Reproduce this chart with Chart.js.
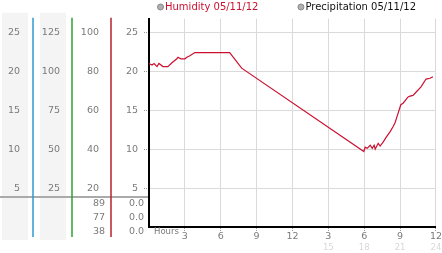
<!DOCTYPE html>
<html>
<head>
<meta charset="utf-8">
<script src="https://cdn.jsdelivr.net/npm/chart.js@4.4.1/dist/chart.umd.min.js"></script>
<style>
  html, body { margin: 0; padding: 0; background: #fff; }
</style>
</head>
<body>
<canvas id="chart" width="442" height="253"></canvas>
<script>
// humidity trace (hours since midnight -> value)
const hours = [0, 0.25, 0.42, 0.67, 0.83, 1.17, 1.58, 1.92, 2.33, 2.42, 2.67, 3.0, 3.17, 3.42, 3.83,
  6.75, 7.75, 17.97, 18.08, 18.25, 18.5, 18.67, 18.83, 18.92, 19.17, 19.33, 19.58, 19.83, 20.17,
  20.42, 20.58, 20.83, 21.06, 21.25, 21.67, 21.83, 22.08, 22.33, 22.75, 23.17, 23.5, 23.75];
const humidity = [21.0, 20.8, 21.0, 20.6, 21.0, 20.6, 20.6, 21.1, 21.6, 21.8, 21.6, 21.6, 21.8, 22.0, 22.4,
  22.4, 20.4, 9.7, 10.25, 10.1, 10.5, 10.1, 10.5, 10.0, 10.75, 10.4, 10.9, 11.5, 12.25,
  12.9, 13.4, 14.6, 15.7, 15.9, 16.7, 16.8, 16.9, 17.3, 18.0, 19.0, 19.1, 19.3];
const precipHours = [0, 23.75];
const precipitation = [0, 0];

const seriesLabels = ['Humidity 05/11/12', 'Precipitation 05/11/12'];

// left hand panel columns
const yMax = 26.75;
const colFactors = [1, 5, 4, 1];
const colSteps = [5, 25, 20, 5];
const readingsA = ['89', '77', '38'];
const readingsB = ['0.0', '0.0', '0.0'];

const xMax = 24;
const xStep = 3;

const grey = '#7a7a7a';
const red = '#cc1030';
const tickFont = { family: 'DejaVu Sans', size: 9.5 };
const smallFont = { family: 'DejaVu Sans', size: 8.5 };

function leftColumn(i, weight, width, pad) {
  return {
    position: 'left',
    weight: weight,
    min: 0,
    max: yMax * colFactors[i],
    grid: { display: false, drawTicks: false },
    border: { display: false },
    ticks: {
      stepSize: colSteps[i],
      includeBounds: false,
      padding: pad,
      color: grey,
      font: tickFont,
      callback: v => v === 0 ? '' : v
    },
    afterFit: s => { s.width = width; }
  };
}

// panel backgrounds, coloured separators, legend and readings
const panelPlugin = {
  id: 'panel',
  beforeDraw(chart) {
    const ctx = chart.ctx;
    const area = chart.chartArea;
    const s = chart.scales;
    ctx.save();
    ctx.fillStyle = '#f4f4f4';
    ctx.fillRect(s.c1.left + 2, area.top - 6, s.c1.right - s.c1.left - 7, area.bottom - area.top + 19);
    ctx.fillRect(s.c2.left + 7, area.top - 6, s.c2.right - s.c2.left - 13, area.bottom - area.top + 19);

    ctx.fillStyle = '#aaaaaa';
    ctx.fillRect(0, area.bottom - 31, s.y.right - 1, 2);

    const lineColors = ['#2f9bd0', '#2fa22f', '#b8202a'];
    [s.c1, s.c2, s.c3].forEach((sc, i) => {
      ctx.strokeStyle = lineColors[i];
      ctx.lineWidth = 1.5;
      ctx.beginPath();
      ctx.moveTo(sc.right, area.top - 1);
      ctx.lineTo(sc.right, area.bottom + 10);
      ctx.stroke();
    });
    ctx.restore();
  },
  afterDraw(chart) {
    const ctx = chart.ctx;
    const area = chart.chartArea;
    const s = chart.scales;
    ctx.save();

    // legend
    ctx.font = '10px "DejaVu Sans"';
    ctx.textBaseline = 'middle';
    let x = area.left + 8;
    const ly = 7;
    chart.data.datasets.forEach((ds, i) => {
      ctx.beginPath();
      ctx.arc(x + 3.5, ly, 3, 0, Math.PI * 2);
      ctx.fillStyle = '#b0b0b0';
      ctx.fill();
      ctx.strokeStyle = '#888';
      ctx.lineWidth = 1;
      ctx.stroke();
      ctx.fillStyle = i === 0 ? red : '#111';
      ctx.textAlign = 'left';
      ctx.fillText(ds.label, x + 8, ly);
      x += 8 + ctx.measureText(ds.label).width + 39;
    });

    // axis caption
    ctx.font = '8.5px "DejaVu Sans"';
    ctx.fillStyle = grey;
    ctx.fillText('Hours', area.left + 5, area.bottom + 5);

    // current readings under the separator
    ctx.font = '9.5px "DejaVu Sans"';
    ctx.textAlign = 'right';
    const top = area.bottom - 23;
    readingsA.forEach((t, i) => ctx.fillText(t, s.c3.right - 6, top + i * 14));
    readingsB.forEach((t, i) => ctx.fillText(t, s.y.right - 5, top + i * 14));
    ctx.restore();
  }
};

new Chart(document.getElementById('chart'), {
  type: 'line',
  data: {
    datasets: [{
      label: seriesLabels[0],
      data: hours.map((h, i) => ({ x: h, y: humidity[i] })),
      borderColor: red,
      borderWidth: 1.2,
      pointRadius: 0,
      tension: 0
    }, {
      label: seriesLabels[1],
      data: precipHours.map((h, i) => ({ x: h, y: precipitation[i] })),
      borderColor: '#000',
      borderWidth: 1,
      pointRadius: 0,
      tension: 0
    }]
  },
  options: {
    responsive: false,
    animation: false,
    devicePixelRatio: 1,
    layout: { padding: { top: 13, left: 0, right: 4, bottom: 0 } },
    plugins: {
      legend: { display: false },
      tooltip: { enabled: false }
    },
    scales: {
      c1: leftColumn(0, 4, 33, 13),
      c2: leftColumn(1, 3, 39, 12),
      c3: leftColumn(2, 2, 39, 12),
      y: {
        position: 'left',
        weight: 1,
        min: 0,
        max: yMax,
        grid: {
          color: '#dadada',
          tickLength: 5,
          tickColor: c => c.tick && c.tick.value === 0 ? 'rgba(0,0,0,0)' : '#999',
          tickBorderDash: [1, 1]
        },
        border: { color: '#000', width: 2 },
        ticks: {
          stepSize: colSteps[3],
          includeBounds: false,
          padding: 6,
          color: grey,
          font: tickFont,
          callback: v => v === 0 ? '' : v
        },
        afterFit: s => { s.width = 38; }
      },
      x: {
        type: 'linear',
        position: 'bottom',
        weight: 0,
        min: 0,
        max: xMax,
        grid: {
          color: '#dadada',
          tickLength: 4,
          tickColor: c => c.tick && c.tick.value === 0 ? 'rgba(0,0,0,0)' : '#999',
          tickBorderDash: [1, 1]
        },
        border: { color: '#000', width: 2 },
        ticks: {
          stepSize: xStep,
          autoSkip: false,
          maxRotation: 0,
          padding: 0,
          color: grey,
          font: tickFont,
          callback: v => v === 0 ? '' : (v > 12 ? v - 12 : v)
        },
        afterFit: s => { s.height = 16; }
      },
      x2: {
        type: 'linear',
        position: 'bottom',
        weight: 1,
        min: 0,
        max: xMax,
        grid: { display: false, drawTicks: false },
        border: { display: false },
        ticks: {
          stepSize: xStep,
          autoSkip: false,
          maxRotation: 0,
          padding: 0,
          color: '#d8d8d8',
          font: smallFont,
          callback: v => v > 12 ? v : ''
        },
        afterFit: s => { s.height = 10; }
      }
    }
  },
  plugins: [panelPlugin]
});
</script>
</body>
</html>
